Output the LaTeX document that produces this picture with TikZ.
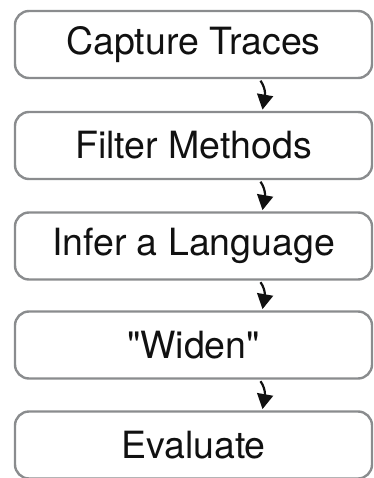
\documentclass[tikz,border=0pt]{standalone}
\usepackage{fontspec}
\setmainfont{TeX Gyre Heros}
\usetikzlibrary{arrows.meta}
\definecolor{frame}{HTML}{8A8C8E}
\definecolor{ink}{HTML}{111111}

\begin{document}
\begin{tikzpicture}[x=1pt,y=1pt,
        stage/.style={rectangle,rounded corners=14pt,draw=frame,line width=2.4pt,
          minimum width=357pt,minimum height=67pt,inner sep=0pt,
          font=\fontsize{37.5}{42}\selectfont,text=ink},
        flow/.style={ink,line width=2.2pt,-{Triangle[length=15pt,width=16pt]}}]
        \clip (0,0) rectangle (373,-478);
        \node[stage] (capture) at (193.5,-44.5) {Capture Traces};
        \node[stage] (filter) at (193.5,-145.5) {Filter Methods};
        \node[stage] (infer) at (193.5,-246) {Infer a Language};
        \node[stage] (widen) at (193.5,-345) {\textquotedbl Widen\textquotedbl};
        \node[stage] (evaluate) at (193.5,-445) {Evaluate};
        \foreach \u/\w in {capture/filter,filter/infer,infer/widen,widen/evaluate}
          \draw[flow] ([xshift=67pt,yshift=-1.5pt]\u.south) to[out=-55,in=80] ([xshift=69pt,yshift=1.2pt]\w.north);
      \end{tikzpicture}
\end{document}
